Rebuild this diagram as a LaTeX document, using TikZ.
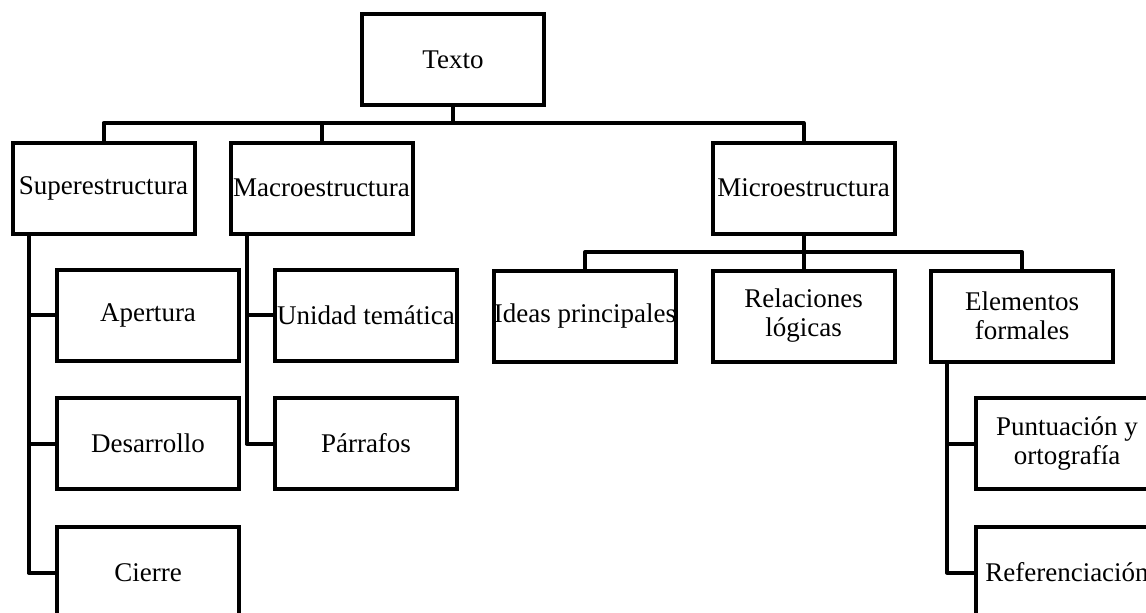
\documentclass[tikz,border=0pt]{standalone}
\usepackage{fontspec}
\setmainfont{Liberation Serif}
\begin{document}
\begin{tikzpicture}[x=1pt,y=-1pt,
  box/.style={draw, line width=4pt, rectangle, minimum width=182pt, minimum height=91pt, inner sep=0pt, align=center, font=\fontsize{27}{29}\selectfont},
  conn/.style={line width=4pt, line join=round}]
\useasboundingbox (0,0) rectangle (1146,613);
\clip (0,0) rectangle (1146,613);
\node[box] (texto) at (453,59.5) {Texto};
\node[box] (super) at (103.5,188) {Superestructura};
\node[box] (macro) at (321.5,188) {Macroestructura};
\node[box] (micro) at (803.5,188) {Microestructura};
\node[box] (apert) at (148,315) {Apertura};
\node[box] (desar) at (148,443.5) {Desarrollo};
\node[box] (cierre) at (148,572.5) {Cierre};
\node[box] (unidad) at (366,315) {Unidad temática};
\node[box] (parr) at (366,443.5) {Párrafos};
\node[box] (ideas) at (585,316) {Ideas principales};
\node[box] (relac) at (803.5,316) {Relaciones\\lógicas};
\node[box] (elem) at (1022,316) {Elementos\\formales};
\node[box] (punt) at (1067,443.5) {Puntuación y\\ortografía};
\node[box] (refer) at (1067,572.5) {Referenciación};
\coordinate (busT) at (453,123);
\coordinate (busM) at (803.5,252);
\draw[conn] (texto) -- (busT) -| (super);
\draw[conn] (busT) -| (macro);
\draw[conn] (busT) -| (micro);
\draw[conn] (micro) -- (busM) -| (ideas);
\draw[conn] (busM) -- (relac);
\draw[conn] (busM) -| (elem);
\draw[conn] ([xshift=18pt]super.south west) |- (apert.west);
\draw[conn] ([xshift=18pt]super.south west) |- (desar.west);
\draw[conn] ([xshift=18pt]super.south west) |- (cierre.west);
\draw[conn] ([xshift=18pt]macro.south west) |- (unidad.west);
\draw[conn] ([xshift=18pt]macro.south west) |- (parr.west);
\draw[conn] ([xshift=18pt]elem.south west) |- (punt.west);
\draw[conn] ([xshift=18pt]elem.south west) |- (refer.west);
\end{tikzpicture}
\end{document}
